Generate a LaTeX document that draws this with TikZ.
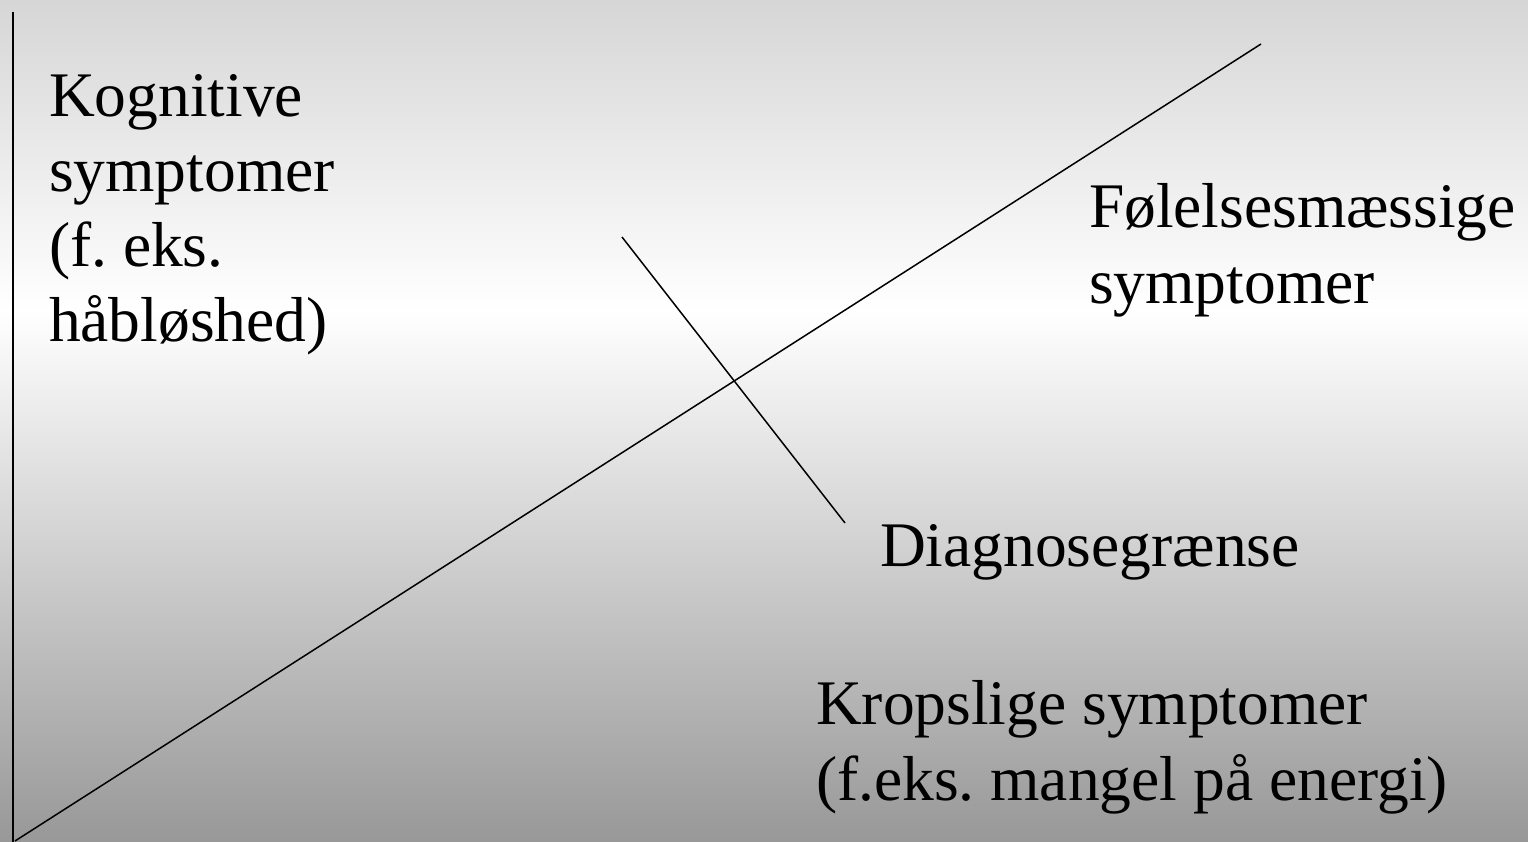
\documentclass[tikz,border=0pt]{standalone}
\usepackage{fontspec}
\setmainfont{Liberation Serif}
\frenchspacing
\definecolor{bgtop}{HTML}{D6D6D6}
\definecolor{bgbot}{HTML}{989898}
\tikzset{
  lbl/.style={anchor=base west, inner sep=0pt, outer sep=0pt, text=black,
    font=\fontsize{63.5}{74.5}\selectfont},
  ln/.style={draw=black, line width=1.5pt}
}
\begin{document}
\begin{tikzpicture}[x=1pt, y=-1pt]
\useasboundingbox (0,0) rectangle (1528,842);
\shade[top color=bgtop, bottom color=white] (0,0) rectangle (1528,311);
\shade[top color=white, bottom color=bgbot] (0,310) rectangle (1528,842);
% coordinates
\coordinate (vtop) at (13,12);
\coordinate (vbot) at (13,842);
\coordinate (dlo) at (15,841);
\coordinate (dhi) at (1261,44);
\coordinate (chi) at (622,237);
\coordinate (clo) at (845,523);
\draw[ln, line width=1.8pt] (vtop) -- (vbot);
\draw[ln] (dlo) -- (dhi);
\draw[ln] (chi) -- (clo);
% left text
\node[lbl] (k1) at (49,117) {Kognitive};
\node[lbl] (k2) at (49,192) {symptomer};
\node[lbl] (k3) at (49,266) {(f. eks.};
\node[lbl] (k4) at (49,341) {håbløshed)};
% right text
\node[lbl] (f1) at (1089,228) {Følelsesmæssige};
\node[lbl] (f2) at (1089,303) {symptomer};
% diagnosis
\node[lbl] (d1) at (880,566) {Diagnosegrænse};
% bottom
\node[lbl] (b1) at (816,724) {Kropslige symptomer};
\node[lbl] (b2) at (816,800) {(f.eks. mangel på energi)};
\end{tikzpicture}
\end{document}
